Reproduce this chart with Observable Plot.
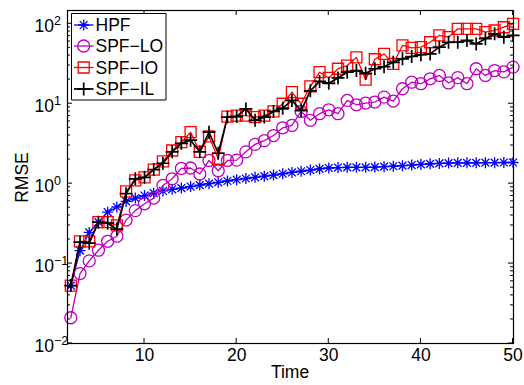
<!DOCTYPE html>
<html><head><meta charset="utf-8">
<script src="https://cdn.jsdelivr.net/npm/d3@7"></script>
<script src="https://cdn.jsdelivr.net/npm/@observablehq/plot@0.6"></script>
<style>
body{margin:0;background:#fff;}
#chart{width:524px;height:385px;}
</style>
</head><body><div id="chart"></div>
<script>
// ---- data ----
const time = [2,3,4,5,6,7,8,9,10,11,12,13,14,15,16,17,18,19,20,21,22,23,24,25,26,27,28,29,30,31,32,33,34,35,36,37,38,39,40,41,42,43,44,45,46,47,48,49,50];
const hpf = [0.053,0.145,0.245,0.33,0.44,0.51,0.60,0.66,0.71,0.76,0.81,0.85,0.88,0.92,0.96,1.0,1.04,1.08,1.12,1.16,1.20,1.24,1.28,1.33,1.38,1.43,1.48,1.53,1.57,1.59,1.60,1.60,1.60,1.61,1.63,1.65,1.68,1.71,1.74,1.77,1.79,1.81,1.82,1.82,1.82,1.83,1.83,1.84,1.84];
const spfLO = [0.021,0.075,0.108,0.147,0.19,0.22,0.35,0.46,0.56,0.66,0.95,1.15,1.55,1.57,1.32,1.95,1.45,1.95,1.97,2.5,3.1,3.45,4.0,5.0,5.35,8.0,6.2,7.5,8.4,7.5,11,9.7,10.2,10.5,12.1,10.8,15.4,18.6,17.8,20.5,22.6,18.2,21.2,17.8,27.4,22.6,26,25,28.7];
const spfIO = [0.053,0.19,0.19,0.33,0.33,0.30,0.80,1.1,1.2,1.5,1.9,2.6,3.3,4.4,2.5,3.9,2.05,6.9,7.1,7.1,6.8,7.1,8.0,10,14,10,16.5,24.8,21,27.4,30,38,20,36,42,31.6,53.6,50,51,58.8,71.5,68,86.6,86.6,86.6,78.6,82.5,90.6,100];
const spfIL = [0.053,0.185,0.18,0.33,0.32,0.27,0.75,1.15,1.2,1.5,1.8,2.5,3.2,3.5,2.5,4.4,2.4,6.8,6.9,8.6,6.2,6.8,8.0,8.8,11,8.2,14.5,19,18,21,24.8,26,24,27.4,29,33,36.5,39,41,42,51,58.8,58.8,62,56,65,75,68,71.5];

const seriesNames = ["HPF", "SPF\u2212LO", "SPF\u2212IO", "SPF\u2212IL"];
const seriesValues = [hpf, spfLO, spfIO, spfIL];
const seriesColors = ["#0000ff", "#bf00bf", "#ff0000", "#000000"];
const xTicks = [10, 20, 30, 40, 50];
const yTicks = [0.01, 0.1, 1, 10, 100];
const yTickExponents = ["\u22122", "\u22121", "0", "1", "2"];
const xLabel = "Time";
const yLabel = "RMSE";

// ---- MATLAB-like marker symbols ----
const rad = s => Math.sqrt(s / Math.PI);
const symAsterisk = {draw(c, s){ const r = rad(s), d = r*Math.SQRT1_2;
  c.moveTo(-r,0); c.lineTo(r,0); c.moveTo(0,-r); c.lineTo(0,r);
  c.moveTo(-d,-d); c.lineTo(d,d); c.moveTo(-d,d); c.lineTo(d,-d); }};
const symCircle = {draw(c, s){ const r = rad(s); c.moveTo(r,0); c.arc(0,0,r,0,2*Math.PI); c.closePath(); }};
const symSquare = {draw(c, s){ const r = rad(s); c.rect(-r,-r,2*r,2*r); }};
const symPlus = {draw(c, s){ const r = rad(s); c.moveTo(-r,0); c.lineTo(r,0); c.moveTo(0,-r); c.lineTo(0,r); }};
const seriesSymbols = [symAsterisk, symCircle, symSquare, symPlus];
const seriesR = [5.5, 6, 5.5, 6.5];
const seriesLW = [1.3, 1.3, 1.3, 1.7];

const W = 524, H = 385, mL = 67, mR = 11, mT = 10, mB = 42;
const FONT = "'Liberation Sans', Arial, Helvetica, sans-serif";

const marks = [];
seriesValues.forEach((vals, i) => {
  const rows = time.map((t, j) => ({t, v: vals[j]}));
  marks.push(Plot.line(rows, {x: "t", y: "v", stroke: seriesColors[i], strokeWidth: seriesLW[i]}));
  marks.push(Plot.dot(rows, {x: "t", y: "v", symbol: seriesSymbols[i], r: seriesR[i], stroke: seriesColors[i], fill: "none", strokeWidth: seriesLW[i]}));
});
marks.push(Plot.frame({stroke: "black", strokeWidth: 1.2}));

const plot = Plot.plot({
  width: W, height: H,
  marginLeft: mL, marginRight: mR, marginTop: mT, marginBottom: mB,
  style: {fontFamily: FONT, fontSize: "17.5px", color: "black", background: "white"},
  x: {domain: [1.64, 50.05], ticks: xTicks, tickSize: 0, tickPadding: 5, tickFormat: d => String(d), label: null},
  y: {type: "log", domain: [0.01, 146.7], axis: null},
  marks
});
document.getElementById("chart").appendChild(plot);

// ---- inward ticks, y labels, axis titles and legend ----
const svg = d3.select(plot);
const xs = plot.scale("x"), ys = plot.scale("y");
const x0 = mL, x1 = W - mR, y0 = mT, y1 = H - mB;
const g = svg.append("g").attr("stroke", "black").attr("stroke-width", 1).attr("fill", "none");
xTicks.forEach(v => {
  const px = xs.apply(v);
  g.append("line").attr("x1", px).attr("x2", px).attr("y1", y1).attr("y2", y1 - 5);
  g.append("line").attr("x1", px).attr("x2", px).attr("y1", y0).attr("y2", y0 + 5);
});
yTicks.forEach(v => {
  const py = ys.apply(v);
  g.append("line").attr("x1", x0).attr("x2", x0 + 5).attr("y1", py).attr("y2", py);
  g.append("line").attr("x1", x1).attr("x2", x1 - 5).attr("y1", py).attr("y2", py);
  for (let m = 2; m <= 9; m++) {
    const mv = v * m; if (mv > ys.domain[1]) break;
    const my = ys.apply(mv);
    g.append("line").attr("x1", x0).attr("x2", x0 + 3).attr("y1", my).attr("y2", my);
    g.append("line").attr("x1", x1).attr("x2", x1 - 3).attr("y1", my).attr("y2", my);
  }
});
const tg = svg.append("g").attr("font-family", FONT).attr("fill", "black").attr("text-anchor", "start");
yTicks.forEach((v, i) => {
  const py = ys.apply(v);
  const t = tg.append("text").attr("x", 34.5).attr("y", py + 8.5).attr("font-size", 17.5).attr("text-anchor", "start").text("10");
  t.append("tspan").attr("dy", -6.8).attr("font-size", 12.5).text(yTickExponents[i]);
});
tg.append("text").attr("x", (x0 + x1) / 2).attr("y", 378).attr("text-anchor", "middle").attr("font-size", 17.5).text(xLabel);
tg.append("text").attr("transform", `translate(28,${(y0 + y1) / 2 + 1}) rotate(-90)`).attr("text-anchor", "middle").attr("font-size", 17.5).text(yLabel);

// legend
const lg = svg.append("g");
lg.append("path").attr("d", "M71.5,13.5H166V100H71.5Z")
  .style("fill", "#ffffff").style("stroke", "#000000").style("stroke-width", "1px");
const legendY = [25, 46, 67.5, 89];
seriesNames.forEach((name, i) => {
  const ly = legendY[i];
  lg.append("line").attr("x1", 74).attr("x2", 93.5).attr("y1", ly).attr("y2", ly).attr("stroke", seriesColors[i]).attr("stroke-width", seriesLW[i]);
  lg.append("path").attr("transform", `translate(83.7,${ly})`).attr("d", d3.symbol(seriesSymbols[i], Math.PI * seriesR[i] * seriesR[i])())
    .attr("fill", "none").attr("stroke", seriesColors[i]).attr("stroke-width", seriesLW[i]);
  lg.append("text").attr("x", 95.5).attr("y", ly + 6.3).attr("text-anchor", "start").attr("font-family", FONT).attr("font-size", 17.5).attr("fill", "black").text(name);
});
</script>
</body></html>
